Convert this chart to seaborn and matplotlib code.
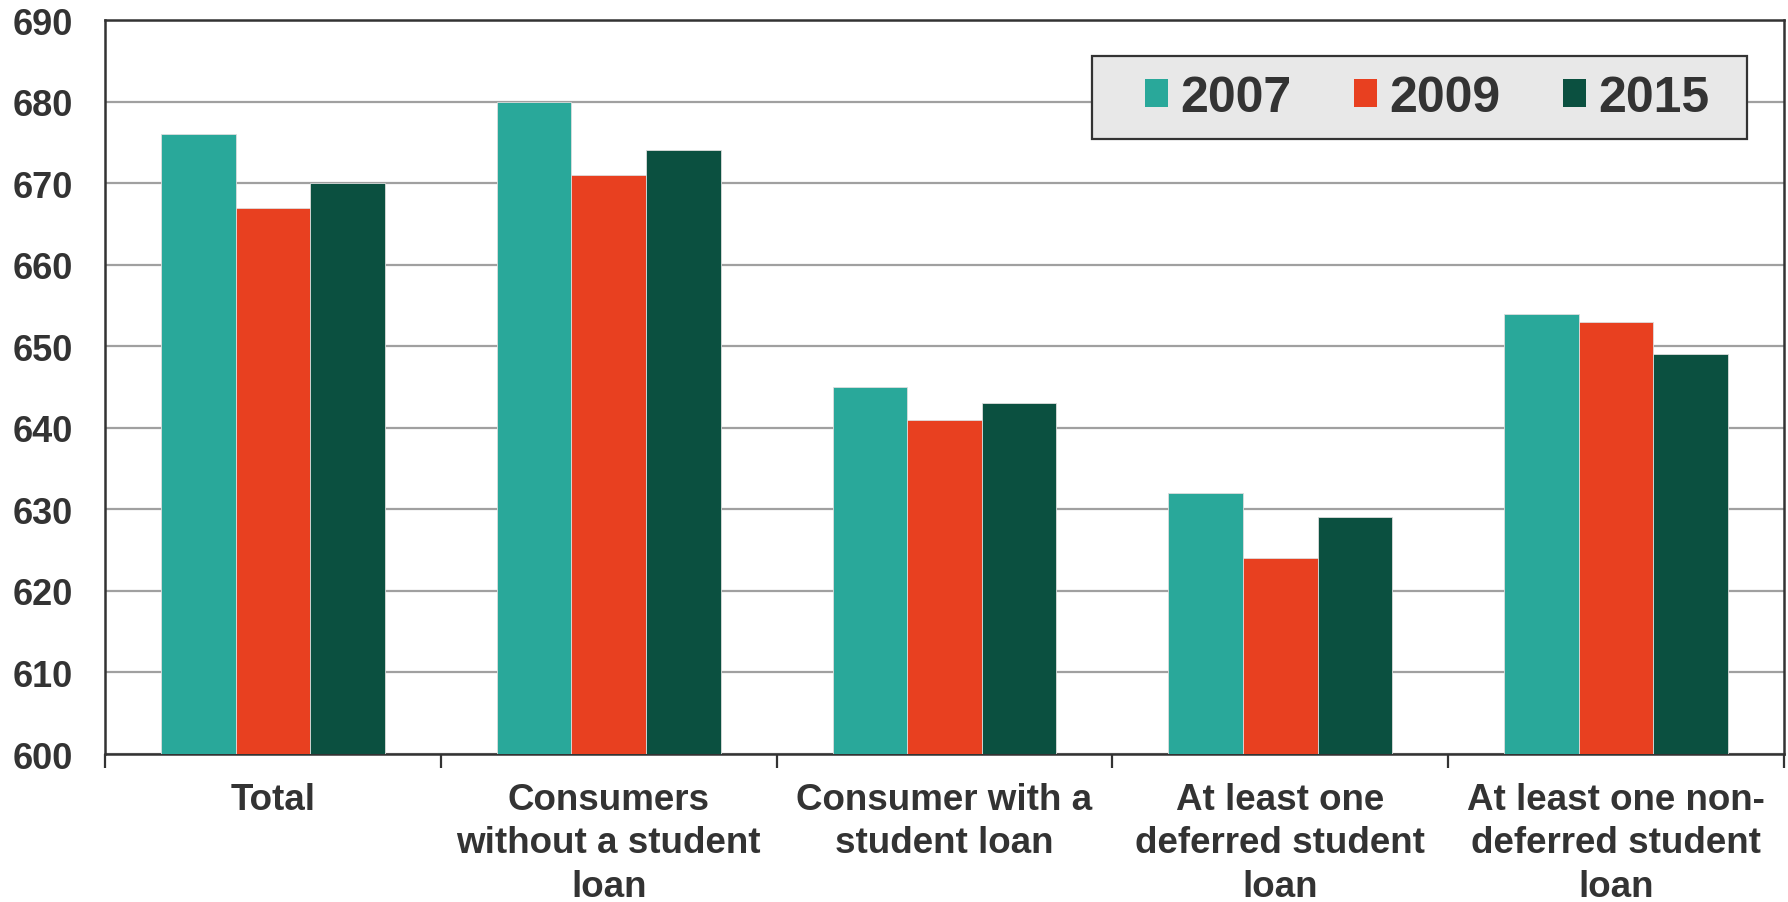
import matplotlib
matplotlib.use("Agg")
import matplotlib.pyplot as plt
from matplotlib.patches import Rectangle
import seaborn as sns
import pandas as pd
import numpy as np

categories = [
    "Total",
    "Consumers\nwithout a student\nloan",
    "Consumer with a\nstudent loan",
    "At least one\ndeferred student\nloan",
    "At least one non-\ndeferred student\nloan",
]
years = ["2007", "2009", "2015"]
scores_2007 = [676, 680, 645, 632, 654]
scores_2009 = [667, 671, 641, 624, 653]
scores_2015 = [670, 674, 643, 629, 649]
colors = ["#29A89A", "#E84020", "#0B5040"]
y_ticks = [600, 610, 620, 630, 640, 650, 660, 670, 680, 690]

df = pd.DataFrame({
    "category": categories * 3,
    "year": [years[0]] * 5 + [years[1]] * 5 + [years[2]] * 5,
    "score": scores_2007 + scores_2009 + scores_2015,
})

sns.set_style("white")
plt.rcParams["font.family"] = ["Liberation Sans", "DejaVu Sans"]
plt.rcParams["font.weight"] = "bold"

text_color = "#333333"
W, H = 1788, 903

fig = plt.figure(figsize=(W / 100, H / 100), dpi=100)
ax = fig.add_axes([105 / W, 1 - 755 / H, (1784 - 105) / W, (755 - 21) / H])

sns.barplot(data=df, x="category", y="score", hue="year", order=categories,
            hue_order=years, palette=colors, width=0.667, saturation=1,
            edgecolor="#DDDDDD", linewidth=0.6, ax=ax, zorder=3)

ax.set_ylim(600, 690)
ax.set_yticks(y_ticks)
ax.set_yticklabels([str(t) for t in y_ticks], fontsize=26, fontweight="bold", color=text_color)
ax.set_xlim(-0.5, len(categories) - 0.5)
ax.grid(axis="y", color="#A0A0A0", linewidth=1.6, zorder=0)
ax.set_axisbelow(True)
ax.set_xlabel("")
ax.set_ylabel("")

# category labels centered, tick marks on the group boundaries
ax.set_xticks(np.arange(len(categories)))
ax.set_xticklabels(categories, fontsize=26.5, fontweight="bold", color=text_color,
                   linespacing=1.31, va="top")
ax.tick_params(axis="x", which="major", bottom=True, length=0, pad=20)
ax.tick_params(axis="y", length=0, pad=23)
ax.set_xticks(np.arange(len(categories) + 1) - 0.5, minor=True)
ax.tick_params(axis="x", which="minor", bottom=True, length=10, width=1.6,
               color=text_color, direction="out")

for side in ["left", "right", "top", "bottom"]:
    ax.spines[side].set_visible(True)
    ax.spines[side].set_color(text_color)
    ax.spines[side].set_linewidth(1.8)

# legend box
bx0, bx1, by0, by1 = 1092, 1747, 57, 140
ax.add_patch(Rectangle((bx0 / W, 1 - by1 / H), (bx1 - bx0) / W, (by1 - by0) / H,
                       transform=fig.transFigure, facecolor="#E8E8E8",
                       edgecolor=text_color, linewidth=1.6, zorder=5, clip_on=False))
leg = ax.legend(loc="center", bbox_to_anchor=(1427 / W, 1 - 98.5 / H),
                bbox_transform=fig.transFigure,
                ncol=3, fontsize=36, frameon=False,
                handlelength=0.46, handleheight=0.5, handletextpad=0.25,
                columnspacing=1.25, borderpad=0, borderaxespad=0)
leg.set_zorder(6)
for t in leg.get_texts():
    t.set_fontweight("bold")
    t.set_color(text_color)
for h in leg.legend_handles:
    h.set_edgecolor("none")

fig.savefig("out.png", dpi=100)
